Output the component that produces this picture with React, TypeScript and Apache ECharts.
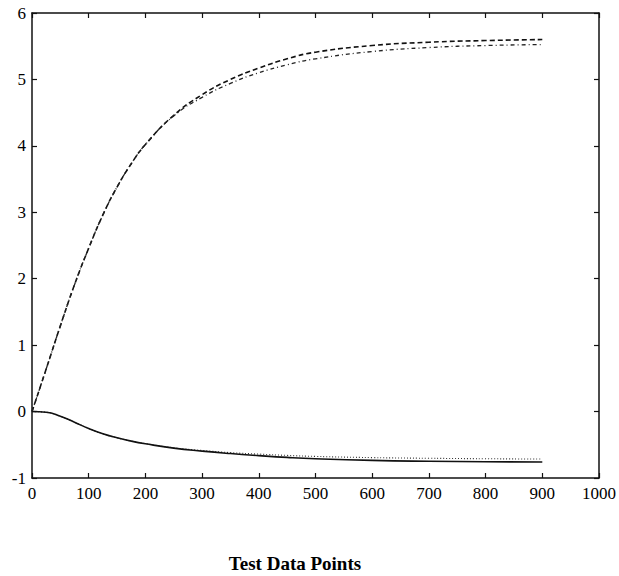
import React, { useEffect, useRef } from "react";
import * as echarts from "echarts";

const xPoints = [0, 25, 50, 75, 100, 125, 150, 175, 200, 250, 300, 350, 400, 450, 500, 600, 700, 800, 900];

const upperDashed = [0, 0.64, 1.29, 1.91, 2.46, 2.96, 3.38, 3.73, 4.02, 4.46, 4.77, 5.0, 5.17, 5.31, 5.41, 5.51, 5.56, 5.585, 5.6];
const upperDotted = [0, 0.64, 1.29, 1.91, 2.46, 2.96, 3.38, 3.73, 4.02, 4.45, 4.73, 4.94, 5.1, 5.22, 5.31, 5.42, 5.48, 5.51, 5.525];
const lowerSolid = [0, -0.01, -0.07, -0.16, -0.255, -0.335, -0.395, -0.445, -0.485, -0.55, -0.595, -0.632, -0.663, -0.69, -0.71, -0.735, -0.748, -0.755, -0.76];
const lowerDotted = [0, -0.01, -0.07, -0.16, -0.255, -0.335, -0.395, -0.445, -0.483, -0.545, -0.585, -0.618, -0.64, -0.66, -0.675, -0.693, -0.703, -0.71, -0.715];

const xTicks = [0, 100, 200, 300, 400, 500, 600, 700, 800, 900, 1000];
const yTicks = [-1, 0, 1, 2, 3, 4, 5, 6];

const xLabel = "Test Data Points";

const pair = (ys: number[]) => xPoints.map((x, i) => [x, ys[i]]);

export default function App() {
  const ref = useRef<HTMLDivElement>(null);
  useEffect(() => {
    if (!ref.current) return;
    const chart = echarts.init(ref.current, undefined, { renderer: "svg" });
    const font = "'Liberation Serif', 'Times New Roman', serif";
    const axisLine = { show: true, onZero: false, lineStyle: { color: "#111", width: 1.5 } };
    const tick = { show: true, inside: true, length: 5, lineStyle: { color: "#111", width: 1.2 } };
    const lineBase = { type: "line", showSymbol: false, smooth: true, silent: true };
    const plain = (v: number) => String(v);
    chart.setOption({
      animation: false,
      backgroundColor: "#fff",
      grid: { left: 32, right: 18, top: 13, bottom: 98, containLabel: false },
      xAxis: [
        {
          type: "value",
          min: xTicks[0],
          max: xTicks[xTicks.length - 1],
          interval: 100,
          position: "bottom",
          axisLine,
          axisTick: tick,
          splitLine: { show: false },
          axisLabel: { color: "#000", fontFamily: font, fontSize: 17, margin: 7, formatter: plain },
        },
        {
          type: "value",
          min: xTicks[0],
          max: xTicks[xTicks.length - 1],
          interval: 100,
          position: "top",
          axisLine,
          axisTick: tick,
          splitLine: { show: false },
          axisLabel: { show: false },
        },
      ],
      yAxis: [
        {
          type: "value",
          min: yTicks[0],
          max: yTicks[yTicks.length - 1],
          interval: 1,
          position: "left",
          axisLine,
          axisTick: tick,
          splitLine: { show: false },
          axisLabel: { color: "#000", fontFamily: font, fontSize: 17, margin: 6, formatter: plain },
        },
        {
          type: "value",
          min: yTicks[0],
          max: yTicks[yTicks.length - 1],
          interval: 1,
          position: "right",
          axisLine,
          axisTick: tick,
          splitLine: { show: false },
          axisLabel: { show: false },
        },
      ],
      graphic: [
        {
          type: "text",
          x: 295,
          y: 563,
          style: {
            text: xLabel,
            fill: "#000",
            font: `bold 19px ${font}`,
            textAlign: "center",
            textVerticalAlign: "middle",
          },
        },
      ],
      series: [
        { ...lineBase, data: pair(upperDashed), lineStyle: { color: "#111", width: 1.6, type: [5, 3] } },
        { ...lineBase, data: pair(upperDotted), lineStyle: { color: "#222", width: 1.3, type: [4, 3, 1, 3] } },
        { ...lineBase, data: pair(lowerDotted), lineStyle: { color: "#333", width: 1.1, type: [1, 2] } },
        { ...lineBase, data: pair(lowerSolid), lineStyle: { color: "#111", width: 1.6, type: "solid" } },
      ],
    });
    return () => chart.dispose();
  }, []);
  return (
    <div
      ref={ref}
      style={{ position: "fixed", left: 0, top: 0, width: 619, height: 576, background: "#fff" }}
    />
  );
}
